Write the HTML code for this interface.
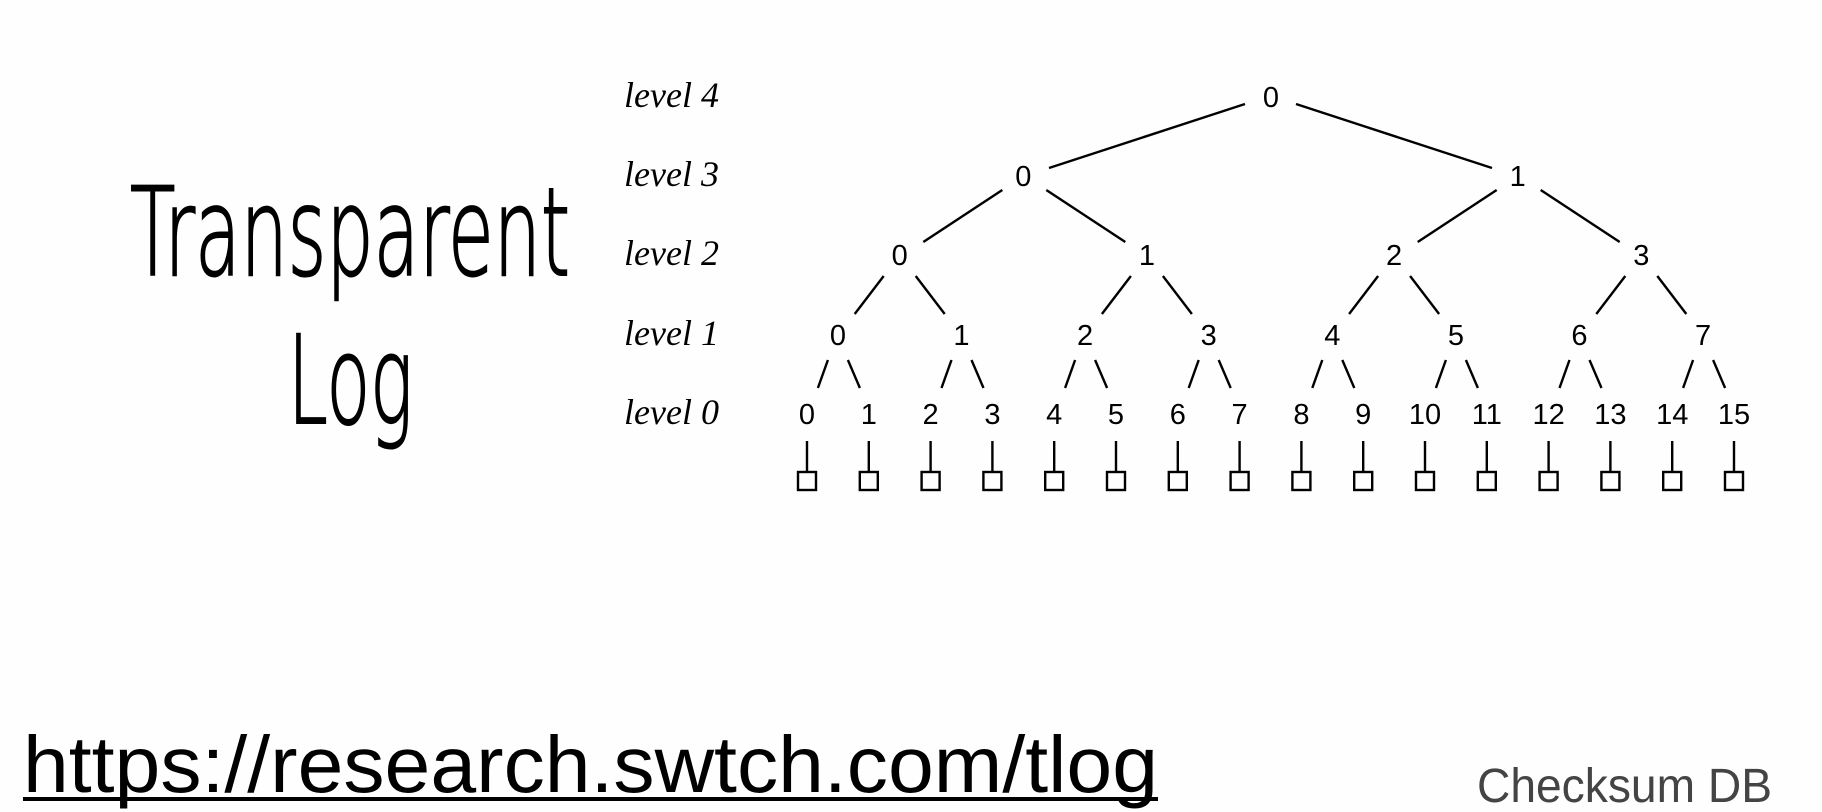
<!DOCTYPE html>
<html><head><meta charset="utf-8"><style>
html,body{margin:0;padding:0;background:#fefefe;}
svg{display:block;}
</style></head><body>
<svg width="1822" height="812" viewBox="0 0 1822 812" xmlns="http://www.w3.org/2000/svg">
<rect width="1822" height="812" fill="#fefefe"/>
<g font-family="'DejaVu Sans',sans-serif" font-weight="200" fill="#000" stroke="#000" stroke-width="2">
<text x="130" y="275" font-size="122" textLength="440" lengthAdjust="spacingAndGlyphs">Transparent</text>
<text x="288" y="423" font-size="122" textLength="125" lengthAdjust="spacingAndGlyphs">Log</text>
</g>
<text x="23" y="792" font-family="'Liberation Sans',sans-serif" font-size="80" textLength="1135" lengthAdjust="spacingAndGlyphs" fill="#000">https://research.swtch.com/tlog</text>
<rect x="23" y="797" width="1135" height="4" fill="#000"/>
<text x="1477" y="802" font-family="'Liberation Sans',sans-serif" font-size="48" textLength="295" lengthAdjust="spacingAndGlyphs" fill="#444">Checksum DB</text>

<g font-family="'Liberation Serif',serif" font-style="italic" font-size="36" fill="#000">
<text x="624" y="107">level 4</text>
<text x="624" y="186">level 3</text>
<text x="624" y="265">level 2</text>
<text x="624" y="345">level 1</text>
<text x="624" y="424">level 0</text>
</g>

<g font-family="'Liberation Sans',sans-serif" font-size="29" fill="#000" text-anchor="middle">
<text x="1271" y="107">0</text>
<text x="1023.3" y="186">0</text><text x="1517.7" y="186">1</text>
<text x="899.7" y="265">0</text><text x="1146.9" y="265">1</text><text x="1394.1" y="265">2</text><text x="1641.3" y="265">3</text>
<text x="837.9" y="345">0</text><text x="961.5" y="345">1</text><text x="1085.1" y="345">2</text><text x="1208.7" y="345">3</text>
<text x="1332.3" y="345">4</text><text x="1455.9" y="345">5</text><text x="1579.5" y="345">6</text><text x="1703.1" y="345">7</text>
<text x="807" y="424">0</text><text x="868.8" y="424">1</text><text x="930.6" y="424">2</text><text x="992.4" y="424">3</text>
<text x="1054.2" y="424">4</text><text x="1116" y="424">5</text><text x="1177.8" y="424">6</text><text x="1239.6" y="424">7</text>
<text x="1301.4" y="424">8</text><text x="1363.2" y="424">9</text><text x="1425" y="424">10</text><text x="1486.8" y="424">11</text>
<text x="1548.6" y="424">12</text><text x="1610.4" y="424">13</text><text x="1672.2" y="424">14</text><text x="1734" y="424">15</text>
</g>

<g stroke="#000" stroke-width="2.4" fill="none">
<line x1="1245" y1="104" x2="1049" y2="168"/><line x1="1296" y1="104" x2="1492" y2="168"/>
<line x1="1002.3" y1="190" x2="923.3" y2="242"/><line x1="1046.3" y1="190" x2="1125.3" y2="242"/>
<line x1="1496.7" y1="190" x2="1417.7" y2="242"/><line x1="1540.7" y1="190" x2="1619.7" y2="242"/>
<line x1="883.7" y1="276" x2="854.7" y2="314"/><line x1="915.7" y1="276" x2="944.7" y2="314"/>
<line x1="1130.9" y1="276" x2="1101.9" y2="314"/><line x1="1162.9" y1="276" x2="1191.9" y2="314"/>
<line x1="1378.1" y1="276" x2="1349.1" y2="314"/><line x1="1410.1" y1="276" x2="1439.1" y2="314"/>
<line x1="1625.3" y1="276" x2="1596.3" y2="314"/><line x1="1657.3" y1="276" x2="1686.3" y2="314"/>
<line x1="827.9" y1="360" x2="817.9" y2="388"/><line x1="847.9" y1="360" x2="859.9" y2="388"/>
<line x1="951.5" y1="360" x2="941.5" y2="388"/><line x1="971.5" y1="360" x2="983.5" y2="388"/>
<line x1="1075.1" y1="360" x2="1065.1" y2="388"/><line x1="1095.1" y1="360" x2="1107.1" y2="388"/>
<line x1="1198.7" y1="360" x2="1188.7" y2="388"/><line x1="1218.7" y1="360" x2="1230.7" y2="388"/>
<line x1="1322.3" y1="360" x2="1312.3" y2="388"/><line x1="1342.3" y1="360" x2="1354.3" y2="388"/>
<line x1="1445.9" y1="360" x2="1435.9" y2="388"/><line x1="1465.9" y1="360" x2="1477.9" y2="388"/>
<line x1="1569.5" y1="360" x2="1559.5" y2="388"/><line x1="1589.5" y1="360" x2="1601.5" y2="388"/>
<line x1="1693.1" y1="360" x2="1683.1" y2="388"/><line x1="1713.1" y1="360" x2="1725.1" y2="388"/>

<path d="M807 441V472M868.8 441V472M930.6 441V472M992.4 441V472M1054.2 441V472M1116 441V472M1177.8 441V472M1239.6 441V472M1301.4 441V472M1363.2 441V472M1425 441V472M1486.8 441V472M1548.6 441V472M1610.4 441V472M1672.2 441V472M1734 441V472"/>
<rect x="798" y="472" width="18" height="18"/><rect x="859.8" y="472" width="18" height="18"/>
<rect x="921.6" y="472" width="18" height="18"/><rect x="983.4" y="472" width="18" height="18"/>
<rect x="1045.2" y="472" width="18" height="18"/><rect x="1107" y="472" width="18" height="18"/>
<rect x="1168.8" y="472" width="18" height="18"/><rect x="1230.6" y="472" width="18" height="18"/>
<rect x="1292.4" y="472" width="18" height="18"/><rect x="1354.2" y="472" width="18" height="18"/>
<rect x="1416" y="472" width="18" height="18"/><rect x="1477.8" y="472" width="18" height="18"/>
<rect x="1539.6" y="472" width="18" height="18"/><rect x="1601.4" y="472" width="18" height="18"/>
<rect x="1663.2" y="472" width="18" height="18"/><rect x="1725" y="472" width="18" height="18"/>
</g>
</svg>
</body></html>
